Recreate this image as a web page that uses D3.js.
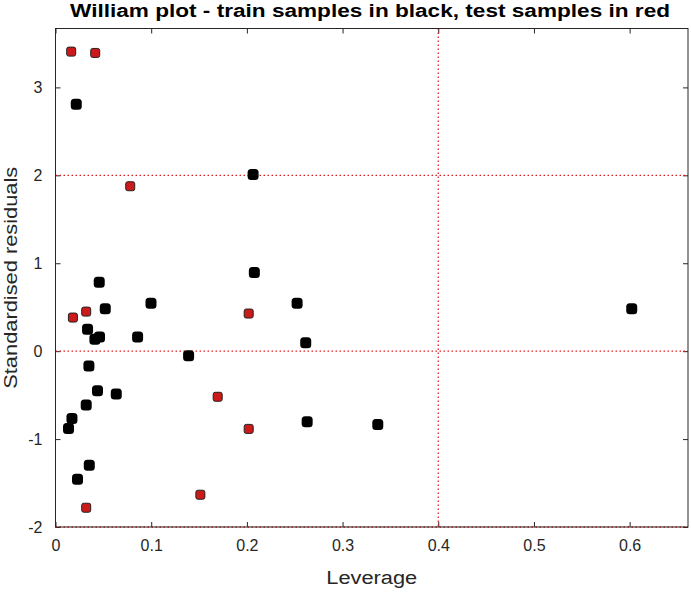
<!DOCTYPE html>
<html>
<head>
<meta charset="utf-8">
<script src="https://cdnjs.cloudflare.com/ajax/libs/d3/7.8.5/d3.min.js"></script>
<style>
  body { margin: 0; background: #fff; }
  text { font-family: "Liberation Sans", Arial, sans-serif; }
</style>
</head>
<body>
<script>
// train samples (black)
var trainLev = [0.0217, 0.2065, 0.2078, 0.0457, 0.052, 0.0998, 0.2525, 0.6022, 0.0858, 0.0335,
                0.0412, 0.046, 0.2615, 0.1391, 0.0349, 0.0439, 0.0635, 0.0321, 0.0172, 0.0136,
                0.263, 0.3368, 0.0353, 0.023]
var trainRes = [2.807, 2.009, 0.895, 0.785, 0.481, 0.545, 0.545, 0.481, 0.162, 0.249,
                0.135, 0.162, 0.097, -0.051, -0.169, -0.450, -0.488, -0.613, -0.766, -0.880,
                -0.804, -0.835, -1.298, -1.457]
// test samples (red)
var testLev = [0.0164, 0.0415, 0.0781, 0.0182, 0.0321, 0.2019, 0.1695, 0.2019, 0.1514, 0.0321]
var testRes = [3.407, 3.392, 1.876, 0.382, 0.450, 0.428, -0.519, -0.884, -1.633, -1.781]

var xTicks = [0, 0.1, 0.2, 0.3, 0.4, 0.5, 0.6]
var yTicks = [-2, -1, 0, 1, 2, 3]
var hLines = [-2, 0, 2]
var vLines = [0.4]

;(function() {
  var W = 691, H = 593
  var m = {left: 55.5, top: 28.5, right: 3, bottom: 66}
  var w = W - m.left - m.right, h = H - m.top - m.bottom

  var x = d3.scaleLinear().domain([0, 0.661]).range([0, w])
  var y = d3.scaleLinear().domain([-2, 3.67]).range([h, 0])
  var fmt = function(d) { return String(d) }   // plain hyphen minus like the original

  var svg = d3.select('body').append('svg')
    .attr('width', W).attr('height', H)

  // the original's fonts are wider than Liberation, so stretch with textLength
  svg.append('text')
    .attr('x', 370).attr('y', 17)
    .attr('text-anchor', 'middle')
    .attr('textLength', 600).attr('lengthAdjust', 'spacingAndGlyphs')
    .style('font-size', '17.5px').style('font-weight', 'bold')
    .attr('fill', '#000')
    .text('William plot - train samples in black, test samples in red')

  var g = svg.append('g').attr('transform', 'translate(' + m.left + ',' + m.top + ')')

  // axes (ticks inside)
  var ax = function(sel) {
    sel.select('.domain').remove()
    sel.selectAll('line').attr('stroke', '#262626')
    sel.selectAll('text').attr('fill', '#262626').style('font-size', '16px')
  }
  g.append('g').attr('transform', 'translate(0,' + h + ')')
    .call(d3.axisBottom(x).tickValues(xTicks).tickSize(-5).tickPadding(13).tickFormat(fmt))
    .call(ax)
  g.append('g')
    .call(d3.axisTop(x).tickValues(xTicks).tickSize(-5).tickFormat(''))
    .call(ax)
  g.append('g')
    .call(d3.axisLeft(y).tickValues(yTicks).tickSize(-5).tickPadding(13).tickFormat(fmt))
    .call(ax)
  g.append('g').attr('transform', 'translate(' + w + ',0)')
    .call(d3.axisRight(y).tickValues(yTicks).tickSize(-5).tickFormat(''))
    .call(ax)

  // reference lines
  g.selectAll('line.h').data(hLines).enter().append('line')
    .attr('x1', 0).attr('x2', w)
    .attr('y1', function(d) { return y(d) }).attr('y2', function(d) { return y(d) })
    .attr('stroke', '#e02020').attr('stroke-width', 1.3).attr('stroke-dasharray', '1.5,2.5')
  g.selectAll('line.v').data(vLines).enter().append('line')
    .attr('y1', 0).attr('y2', h)
    .attr('x1', function(d) { return x(d) }).attr('x2', function(d) { return x(d) })
    .attr('stroke', '#e02020').attr('stroke-width', 1.3).attr('stroke-dasharray', '1.5,2.5')

  g.append('rect').attr('width', w).attr('height', h)
    .attr('fill', 'none').attr('stroke', '#262626').attr('stroke-width', 1)

  // points
  var train = trainLev.map(function(d, i) { return [d, trainRes[i]] })
  var test = testLev.map(function(d, i) { return [d, testRes[i]] })

  g.selectAll('rect.train').data(train).enter().append('rect')
    .attr('x', function(d) { return x(d[0]) - 5.5 })
    .attr('y', function(d) { return y(d[1]) - 5.5 })
    .attr('width', 11).attr('height', 11).attr('rx', 3.5)
    .attr('fill', '#000')

  g.selectAll('rect.test').data(test).enter().append('rect')
    .attr('x', function(d) { return x(d[0]) - 4.5 })
    .attr('y', function(d) { return y(d[1]) - 4.5 })
    .attr('width', 9).attr('height', 9).attr('rx', 2)
    .attr('fill', '#cc1a1a').attr('stroke', '#222').attr('stroke-width', 1)

  // axis labels
  svg.append('text')
    .attr('x', m.left + w / 2).attr('y', 584)
    .attr('text-anchor', 'middle').style('font-size', '18px').attr('fill', '#262626')
    .attr('textLength', 91).attr('lengthAdjust', 'spacingAndGlyphs')
    .text('Leverage')
  svg.append('text')
    .attr('transform', 'translate(17,' + (m.top + h / 2) + ') rotate(-90)')
    .attr('text-anchor', 'middle').style('font-size', '18px').attr('fill', '#262626')
    .attr('textLength', 222).attr('lengthAdjust', 'spacingAndGlyphs')
    .text('Standardised residuals')
})()
</script>
</body>
</html>
